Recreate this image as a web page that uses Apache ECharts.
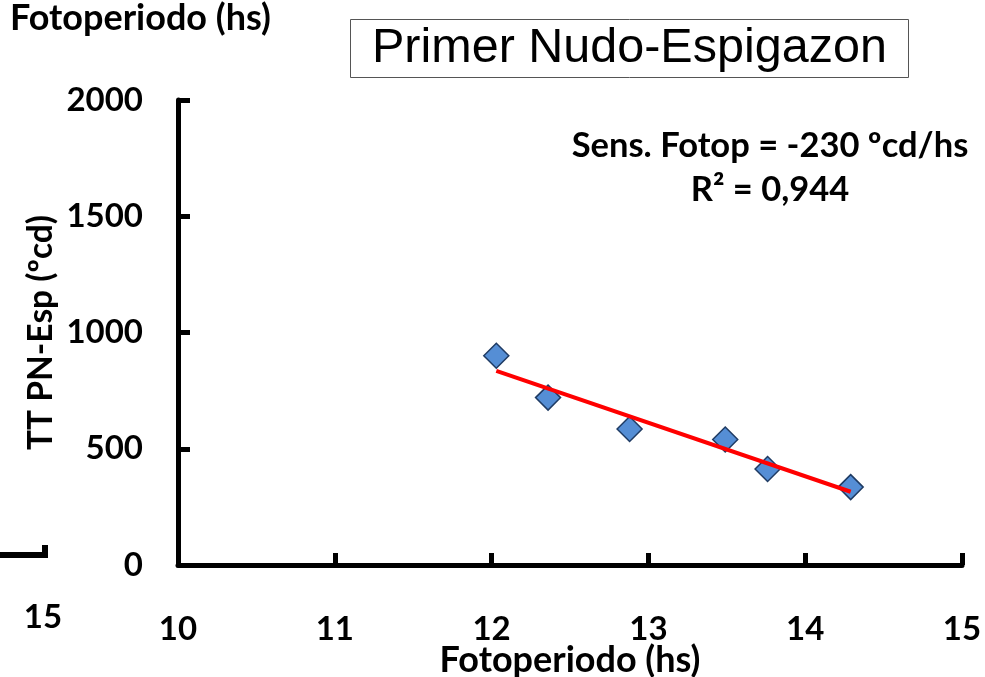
<!DOCTYPE html>
<html>
<head>
<meta charset="utf-8">
<script src="https://cdn.jsdelivr.net/npm/echarts@6/dist/echarts.min.js"></script>
<style>
html,body{margin:0;padding:0;background:#fff;overflow:hidden;}
#chart{width:985px;height:677px;}
</style>
</head>
<body>
<div id="chart"></div>
<script>
// Data
var photoperiod = [12.03, 12.36, 12.88, 13.49, 13.76, 14.29];   // hs
var ttPNEsp     = [900, 720, 585, 540, 413, 335];              // ºcd
var trendX = [12.03, 14.29];
var trendY = [835, 315];
var xTicks = [10, 11, 12, 13, 14, 15];
var yTicks = [0, 500, 1000, 1500, 2000];

var titleText = 'Primer Nudo-Espigazon';
var xName = 'Fotoperiodo (hs)';
var yName = 'TT PN-Esp (ºcd)';
var noteLine1 = 'Sens. Fotop = -230 ºcd/hs';
var noteLine2 = 'R² = 0,944';

var F = 'Lato, "Open Sans", sans-serif';
var chart = echarts.init(document.getElementById('chart'), null, { width: 985, height: 677 });

var scatterData = photoperiod.map(function (x, i) { return [x, ttPNEsp[i]]; });
var trendData = trendX.map(function (x, i) { return [x, trendY[i]]; });

chart.setOption({
  animation: false,
  backgroundColor: '#ffffff',
  title: {
    text: titleText,
    left: 350, top: 20,
    borderWidth: 1, borderColor: '#555555',
    padding: [5, 22, 5, 22],
    textStyle: { fontFamily: '"Liberation Sans", Arial, sans-serif', fontWeight: 'normal', fontSize: 48.5, lineHeight: 47, color: '#000' }
  },
  grid: { left: 178, right: 23, top: 100, bottom: 112, containLabel: false, outerBoundsMode: 'none' },
  xAxis: {
    type: 'value', min: xTicks[0], max: xTicks[xTicks.length - 1], interval: 1,
    name: xName, nameLocation: 'middle', nameGap: 77, nameMoveOverlap: false,
    nameTextStyle: { fontFamily: F, fontWeight: 'bold', fontSize: 36, color: '#000' },
    axisLine: { show: true, onZero: false, lineStyle: { color: '#000', width: 5 } },
    axisTick: { show: true, inside: true, length: 12, lineStyle: { color: '#000', width: 5 } },
    axisLabel: { margin: 48, fontFamily: F, fontWeight: 'bold', fontSize: 33, color: '#000' },
    splitLine: { show: false }
  },
  yAxis: {
    type: 'value', min: yTicks[0], max: yTicks[yTicks.length - 1], interval: 500,
    name: yName, nameLocation: 'middle', nameGap: 120, nameRotate: 90, nameMoveOverlap: false,
    nameTextStyle: { fontFamily: F, fontWeight: 'bold', fontSize: 33.5, color: '#000' },
    axisLine: { show: true, onZero: false, lineStyle: { color: '#000', width: 5 } },
    axisTick: { show: true, inside: true, length: 12, lineStyle: { color: '#000', width: 5 } },
    axisLabel: { margin: 35, fontFamily: F, fontWeight: 'bold', fontSize: 33, color: '#000',
      formatter: function (v) { return String(v); } },
    splitLine: { show: false }
  },
  series: [
    {
      type: 'line', data: trendData, symbol: 'none', z: 3,
      lineStyle: { color: '#ff0000', width: 4 }
    },
    {
      type: 'scatter', data: scatterData, symbol: 'diamond', symbolSize: 25, z: 2,
      itemStyle: { color: '#558ed5', borderColor: '#1f3b63', borderWidth: 1.5, opacity: 1 }
    }
  ],
  graphic: [
    { type: 'text', left: 10, top: 0,
      style: { text: xName, font: 'bold 36px ' + F, fill: '#000' } },
    { type: 'text', x: 43, y: 617,
      style: { text: '15', font: 'bold 33px ' + F, fill: '#000', align: 'center', verticalAlign: 'middle' } },
    { type: 'polyline', shape: { points: [[0, 555], [45, 555], [45, 545]] },
      style: { stroke: '#000', lineWidth: 6, fill: null } },
    { type: 'text', x: 770, y: 146,
      style: { text: noteLine1, font: 'bold 34.5px ' + F, fill: '#000', align: 'center', verticalAlign: 'middle' } },
    { type: 'text', x: 770, y: 190,
      style: { text: noteLine2, font: 'bold 34.5px ' + F, fill: '#000', align: 'center', verticalAlign: 'middle' } }
  ]
});
</script>
</body>
</html>
